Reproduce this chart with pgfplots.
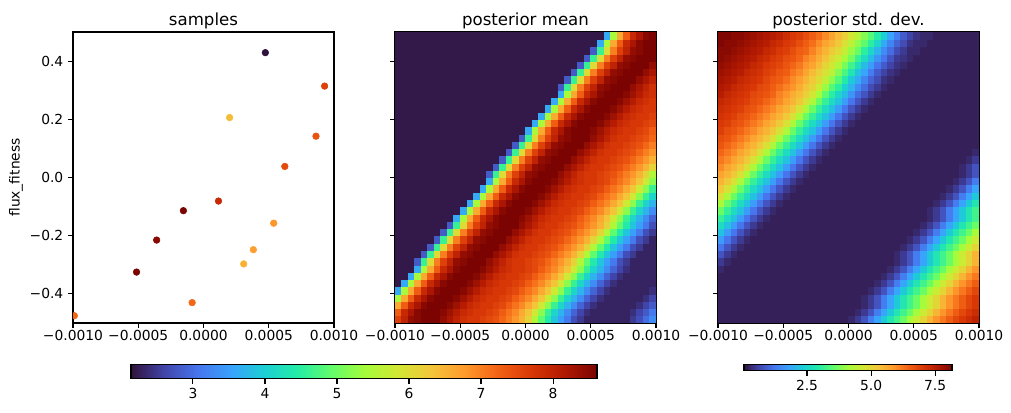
\documentclass[border=0pt]{standalone}
\usepackage{pgfplots}
\pgfplotsset{compat=1.18}
\usepackage{fontspec}
\setmainfont{DejaVu Sans}

% turbo colormap, 15 samples
\pgfplotsset{
  colormap={turbo}{rgb255=(48,18,59) rgb255=(65,69,171) rgb255=(70,117,237)
    rgb255=(57,162,252) rgb255=(27,207,212) rgb255=(36,236,166) rgb255=(97,252,108)
    rgb255=(164,252,59) rgb255=(209,232,52) rgb255=(243,198,58) rgb255=(254,155,45)
    rgb255=(243,99,21) rgb255=(217,56,6) rgb255=(177,25,1) rgb255=(122,4,2)},
  panel/.style={
    scale only axis, width=2.61in, height=2.91in, anchor=south west,
    axis line style={line width=0.8pt},
    tick style={line width=0.8pt, black},
    tick align=outside, tick pos=left, major tick length=3.5pt,
    tick label style={font=\fontsize{10}{12}\selectfont},
    xticklabel style={yshift=2pt},
    title style={font=\fontsize{12}{14}\selectfont, yshift=-7.5pt},
    colormap name=turbo,
  },
  grid panel/.style={
    panel, xmin=0, xmax=40, ymin=0, ymax=40,
    xtick={0,10,20,30,40},
    xticklabels={−0.0010,−0.0005,0.0000,0.0005,0.0010},
    ytick={4,12,20,28,36}, yticklabels={},
  },
  cbar/.style={
    scale only axis, anchor=south west, hide axis,
    xmin=0, xmax=1, ymin=0, ymax=1, colormap name=turbo,
    colorbar horizontal,
  },
  % the colour bar is drawn about 0.11in below the hidden parent box
  cbar style/.style={
    at={(parent axis.south west)}, anchor=south west, scale only axis,
    axis line style={line width=0.8pt},
    tick style={line width=0.8pt, black},
    tick align=outside, major tick length=3.5pt, xtick pos=left,
    tick label style={font=\fontsize{10}{12}\selectfont},
  },
}

\begin{document}
\begin{tikzpicture}
\path (0,0) rectangle (10.11in,4.13in);

% ---- samples ----
\begin{axis}[panel, at={(0.73in,0.90in)},
  xmin=-0.001, xmax=0.001, ymin=-0.5, ymax=0.5, scaled ticks=false,
  xtick={-0.001,-0.0005,0,0.0005,0.001},
  xticklabels={−0.0010,−0.0005,0.0000,0.0005,0.0010},
  ytick={-0.4,-0.2,0,0.2,0.4},
  yticklabels={−0.4,−0.2,0.0,0.2,0.4},
  title={samples},
  ylabel={flux\_fitness},
  ylabel style={font=\fontsize{10}{12}\selectfont, at={(axis description cs:-0.218,0.5)}, anchor=center},
  clip marker paths=true,
  point meta min=2.14, point meta max=8.61]
\addplot[scatter, only marks, mark=*, mark size=2.4pt, point meta=explicit,
  scatter/use mapped color={draw=mapped color, fill=mapped color}]
  table[x=x, y=y, meta=c, row sep=\\] {
x y c\\
0.000474 0.429 2.15\\
0.000928 0.314 7.6\\
0.000200 0.206 6.4\\
0.000862 0.142 7.4\\
0.000623 0.038 7.5\\
0.000115 -0.081 7.9\\
-0.000154 -0.114 8.6\\
0.000538 -0.157 6.8\\
-0.000359 -0.215 8.5\\
0.000382 -0.248 6.7\\
0.000308 -0.297 6.5\\
-0.000513 -0.325 8.6\\
-0.000087 -0.430 7.2\\
-0.000990 -0.475 7.2\\
};
\end{axis}

% ---- posterior mean (40 x 40 cells, bottom row first) ----
\begin{axis}[grid panel, at={(3.95in,0.90in)}, title={posterior mean},
  point meta min=2.14, point meta max=8.61]
\addplot[matrix plot*, mesh/cols=40, point meta=explicit]
  table[header=false, row sep=\\, meta index=0,
    x expr={\coordindex-40*floor((\coordindex+0.5)/40)+0.5},
    y expr={floor((\coordindex+0.5)/40)+0.5}] {
7.6\\ 8.0\\ 8.4\\ 8.5\\ 8.6\\ 8.6\\
8.6\\ 8.4\\ 8.2\\ 8.0\\ 7.8\\ 7.7\\ 7.7\\ 7.6\\ 7.5\\ 7.4\\
7.2\\ 7.0\\ 6.8\\ 6.5\\ 6.1\\ 5.5\\ 4.9\\ 4.4\\ 3.9\\ 3.5\\
3.1\\ 2.7\\ 2.5\\ 2.3\\ 2.3\\ 2.3\\ 2.3\\ 2.3\\ 2.3\\ 2.3\\
2.5\\ 2.7\\ 3.0\\ 3.3\\
7.3\\ 7.9\\ 8.2\\ 8.5\\ 8.6\\ 8.6\\ 8.6\\
8.5\\ 8.3\\ 8.1\\ 7.9\\ 7.8\\ 7.7\\ 7.7\\ 7.6\\ 7.5\\ 7.3\\
7.1\\ 6.9\\ 6.6\\ 6.3\\ 5.8\\ 5.2\\ 4.6\\ 4.1\\ 3.7\\ 3.3\\
2.9\\ 2.6\\ 2.4\\ 2.3\\ 2.3\\ 2.3\\ 2.3\\ 2.3\\ 2.3\\ 2.4\\
2.6\\ 2.8\\ 3.1\\
6.6\\ 7.3\\ 7.9\\ 8.2\\ 8.5\\ 8.6\\ 8.6\\ 8.6\\
8.5\\ 8.3\\ 8.1\\ 7.9\\ 7.8\\ 7.7\\ 7.7\\ 7.6\\ 7.5\\ 7.3\\
7.1\\ 6.9\\ 6.6\\ 6.3\\ 5.8\\ 5.2\\ 4.6\\ 4.1\\ 3.7\\ 3.3\\
2.9\\ 2.6\\ 2.4\\ 2.3\\ 2.3\\ 2.3\\ 2.3\\ 2.3\\ 2.3\\ 2.4\\
2.6\\ 2.8\\
5.4\\ 6.6\\ 7.3\\ 7.9\\ 8.2\\ 8.5\\ 8.6\\ 8.6\\ 8.6\\
8.5\\ 8.3\\ 8.1\\ 7.9\\ 7.8\\ 7.7\\ 7.7\\ 7.6\\ 7.5\\ 7.3\\
7.1\\ 6.9\\ 6.6\\ 6.3\\ 5.8\\ 5.2\\ 4.6\\ 4.1\\ 3.7\\ 3.3\\
2.9\\ 2.6\\ 2.4\\ 2.3\\ 2.3\\ 2.3\\ 2.3\\ 2.3\\ 2.3\\ 2.4\\
2.6\\
3.6\\ 5.4\\ 6.6\\ 7.3\\ 7.9\\ 8.2\\ 8.5\\ 8.6\\ 8.6\\ 8.6\\
8.5\\ 8.3\\ 8.1\\ 7.9\\ 7.8\\ 7.7\\ 7.7\\ 7.6\\ 7.5\\ 7.3\\
7.1\\ 6.9\\ 6.6\\ 6.3\\ 5.8\\ 5.2\\ 4.6\\ 4.1\\ 3.7\\ 3.3\\
2.9\\ 2.6\\ 2.4\\ 2.3\\ 2.3\\ 2.3\\ 2.3\\ 2.3\\ 2.3\\ 2.4\\
2.2\\
3.6\\ 5.4\\ 6.6\\ 7.3\\ 7.9\\ 8.2\\ 8.5\\ 8.6\\ 8.6\\ 8.6\\
8.5\\ 8.3\\ 8.1\\ 7.9\\ 7.8\\ 7.7\\ 7.7\\ 7.6\\ 7.5\\ 7.3\\
7.1\\ 6.9\\ 6.6\\ 6.3\\ 5.8\\ 5.2\\ 4.6\\ 4.1\\ 3.7\\ 3.3\\
2.9\\ 2.6\\ 2.4\\ 2.3\\ 2.3\\ 2.3\\ 2.3\\ 2.3\\ 2.3\\
2.2\\ 2.2\\
3.6\\ 5.4\\ 6.6\\ 7.3\\ 7.9\\ 8.2\\ 8.5\\ 8.6\\ 8.6\\ 8.6\\
8.5\\ 8.3\\ 8.1\\ 7.9\\ 7.8\\ 7.7\\ 7.7\\ 7.6\\ 7.5\\ 7.3\\
7.1\\ 6.9\\ 6.6\\ 6.3\\ 5.8\\ 5.2\\ 4.6\\ 4.1\\ 3.7\\ 3.3\\
2.9\\ 2.6\\ 2.4\\ 2.3\\ 2.3\\ 2.3\\ 2.3\\ 2.3\\
2.2\\ 2.2\\ 2.2\\
3.6\\ 5.4\\ 6.6\\ 7.3\\ 7.9\\ 8.2\\ 8.5\\ 8.6\\ 8.6\\ 8.6\\
8.5\\ 8.3\\ 8.1\\ 7.9\\ 7.8\\ 7.7\\ 7.7\\ 7.6\\ 7.5\\ 7.3\\
7.1\\ 6.9\\ 6.6\\ 6.3\\ 5.8\\ 5.2\\ 4.6\\ 4.1\\ 3.7\\ 3.3\\
2.9\\ 2.6\\ 2.4\\ 2.3\\ 2.3\\ 2.3\\ 2.3\\
2.2\\ 2.2\\ 2.2\\
2.8\\ 4.6\\ 6.0\\ 7.0\\ 7.6\\ 8.0\\ 8.4\\ 8.5\\ 8.6\\ 8.6\\
8.6\\ 8.4\\ 8.2\\ 8.0\\ 7.8\\ 7.7\\ 7.7\\ 7.6\\ 7.5\\ 7.4\\
7.2\\ 7.0\\ 6.8\\ 6.5\\ 6.1\\ 5.5\\ 4.9\\ 4.4\\ 3.9\\ 3.5\\
3.1\\ 2.7\\ 2.5\\ 2.3\\ 2.3\\ 2.3\\ 2.3\\
2.2\\ 2.2\\ 2.2\\ 2.2\\
2.8\\ 4.6\\ 6.0\\ 7.0\\ 7.6\\ 8.0\\ 8.4\\ 8.5\\ 8.6\\ 8.6\\
8.6\\ 8.4\\ 8.2\\ 8.0\\ 7.8\\ 7.7\\ 7.7\\ 7.6\\ 7.5\\ 7.4\\
7.2\\ 7.0\\ 6.8\\ 6.5\\ 6.1\\ 5.5\\ 4.9\\ 4.4\\ 3.9\\ 3.5\\
3.1\\ 2.7\\ 2.5\\ 2.3\\ 2.3\\ 2.3\\
2.2\\ 2.2\\ 2.2\\ 2.2\\ 2.2\\
2.8\\ 4.6\\ 6.0\\ 7.0\\ 7.6\\ 8.0\\ 8.4\\ 8.5\\ 8.6\\ 8.6\\
8.6\\ 8.4\\ 8.2\\ 8.0\\ 7.8\\ 7.7\\ 7.7\\ 7.6\\ 7.5\\ 7.4\\
7.2\\ 7.0\\ 6.8\\ 6.5\\ 6.1\\ 5.5\\ 4.9\\ 4.4\\ 3.9\\ 3.5\\
3.1\\ 2.7\\ 2.5\\ 2.3\\ 2.3\\
2.2\\ 2.2\\ 2.2\\ 2.2\\ 2.2\\ 2.2\\
2.8\\ 4.6\\ 6.0\\ 7.0\\ 7.6\\ 8.0\\ 8.4\\ 8.5\\ 8.6\\ 8.6\\
8.6\\ 8.4\\ 8.2\\ 8.0\\ 7.8\\ 7.7\\ 7.7\\ 7.6\\ 7.5\\ 7.4\\
7.2\\ 7.0\\ 6.8\\ 6.5\\ 6.1\\ 5.5\\ 4.9\\ 4.4\\ 3.9\\ 3.5\\
3.1\\ 2.7\\ 2.5\\ 2.3\\
2.2\\ 2.2\\ 2.2\\ 2.2\\ 2.2\\ 2.2\\ 2.2\\
2.8\\ 4.6\\ 6.0\\ 7.0\\ 7.6\\ 8.0\\ 8.4\\ 8.5\\ 8.6\\ 8.6\\
8.6\\ 8.4\\ 8.2\\ 8.0\\ 7.8\\ 7.7\\ 7.7\\ 7.6\\ 7.5\\ 7.4\\
7.2\\ 7.0\\ 6.8\\ 6.5\\ 6.1\\ 5.5\\ 4.9\\ 4.4\\ 3.9\\ 3.5\\
3.1\\ 2.7\\ 2.5\\
2.2\\ 2.2\\ 2.2\\ 2.2\\ 2.2\\ 2.2\\ 2.2\\ 2.2\\
2.8\\ 4.6\\ 6.0\\ 7.0\\ 7.6\\ 8.0\\ 8.4\\ 8.5\\ 8.6\\ 8.6\\
8.6\\ 8.4\\ 8.2\\ 8.0\\ 7.8\\ 7.7\\ 7.7\\ 7.6\\ 7.5\\ 7.4\\
7.2\\ 7.0\\ 6.8\\ 6.5\\ 6.1\\ 5.5\\ 4.9\\ 4.4\\ 3.9\\ 3.5\\
3.1\\ 2.7\\
2.2\\ 2.2\\ 2.2\\ 2.2\\ 2.2\\ 2.2\\ 2.2\\ 2.2\\ 2.2\\
3.6\\ 5.4\\ 6.6\\ 7.3\\ 7.9\\ 8.2\\ 8.5\\ 8.6\\ 8.6\\ 8.6\\
8.5\\ 8.3\\ 8.1\\ 7.9\\ 7.8\\ 7.7\\ 7.7\\ 7.6\\ 7.5\\ 7.3\\
7.1\\ 6.9\\ 6.6\\ 6.3\\ 5.8\\ 5.2\\ 4.6\\ 4.1\\ 3.7\\ 3.3\\
2.9\\
2.2\\ 2.2\\ 2.2\\ 2.2\\ 2.2\\ 2.2\\ 2.2\\ 2.2\\ 2.2\\ 2.2\\
3.6\\ 5.4\\ 6.6\\ 7.3\\ 7.9\\ 8.2\\ 8.5\\ 8.6\\ 8.6\\ 8.6\\
8.5\\ 8.3\\ 8.1\\ 7.9\\ 7.8\\ 7.7\\ 7.7\\ 7.6\\ 7.5\\ 7.3\\
7.1\\ 6.9\\ 6.6\\ 6.3\\ 5.8\\ 5.2\\ 4.6\\ 4.1\\ 3.7\\ 3.3\\
2.2\\ 2.2\\ 2.2\\ 2.2\\ 2.2\\ 2.2\\ 2.2\\ 2.2\\ 2.2\\ 2.2\\
2.2\\
3.6\\ 5.4\\ 6.6\\ 7.3\\ 7.9\\ 8.2\\ 8.5\\ 8.6\\ 8.6\\ 8.6\\
8.5\\ 8.3\\ 8.1\\ 7.9\\ 7.8\\ 7.7\\ 7.7\\ 7.6\\ 7.5\\ 7.3\\
7.1\\ 6.9\\ 6.6\\ 6.3\\ 5.8\\ 5.2\\ 4.6\\ 4.1\\ 3.7\\
2.2\\ 2.2\\ 2.2\\ 2.2\\ 2.2\\ 2.2\\ 2.2\\ 2.2\\ 2.2\\ 2.2\\
2.2\\ 2.2\\
3.6\\ 5.4\\ 6.6\\ 7.3\\ 7.9\\ 8.2\\ 8.5\\ 8.6\\ 8.6\\ 8.6\\
8.5\\ 8.3\\ 8.1\\ 7.9\\ 7.8\\ 7.7\\ 7.7\\ 7.6\\ 7.5\\ 7.3\\
7.1\\ 6.9\\ 6.6\\ 6.3\\ 5.8\\ 5.2\\ 4.6\\ 4.1\\
2.2\\ 2.2\\ 2.2\\ 2.2\\ 2.2\\ 2.2\\ 2.2\\ 2.2\\ 2.2\\ 2.2\\
2.2\\ 2.2\\ 2.2\\
3.6\\ 5.4\\ 6.6\\ 7.3\\ 7.9\\ 8.2\\ 8.5\\ 8.6\\ 8.6\\ 8.6\\
8.5\\ 8.3\\ 8.1\\ 7.9\\ 7.8\\ 7.7\\ 7.7\\ 7.6\\ 7.5\\ 7.3\\
7.1\\ 6.9\\ 6.6\\ 6.3\\ 5.8\\ 5.2\\ 4.6\\
2.2\\ 2.2\\ 2.2\\ 2.2\\ 2.2\\ 2.2\\ 2.2\\ 2.2\\ 2.2\\ 2.2\\
2.2\\ 2.2\\ 2.2\\ 2.2\\
3.6\\ 5.4\\ 6.6\\ 7.3\\ 7.9\\ 8.2\\ 8.5\\ 8.6\\ 8.6\\ 8.6\\
8.5\\ 8.3\\ 8.1\\ 7.9\\ 7.8\\ 7.7\\ 7.7\\ 7.6\\ 7.5\\ 7.3\\
7.1\\ 6.9\\ 6.6\\ 6.3\\ 5.8\\ 5.2\\
2.2\\ 2.2\\ 2.2\\ 2.2\\ 2.2\\ 2.2\\ 2.2\\ 2.2\\ 2.2\\ 2.2\\
2.2\\ 2.2\\ 2.2\\ 2.2\\
2.8\\ 4.6\\ 6.0\\ 7.0\\ 7.6\\ 8.0\\ 8.4\\ 8.5\\ 8.6\\ 8.6\\
8.6\\ 8.4\\ 8.2\\ 8.0\\ 7.8\\ 7.7\\ 7.7\\ 7.6\\ 7.5\\ 7.4\\
7.2\\ 7.0\\ 6.8\\ 6.5\\ 6.1\\ 5.5\\
2.2\\ 2.2\\ 2.2\\ 2.2\\ 2.2\\ 2.2\\ 2.2\\ 2.2\\ 2.2\\ 2.2\\
2.2\\ 2.2\\ 2.2\\ 2.2\\ 2.2\\
2.8\\ 4.6\\ 6.0\\ 7.0\\ 7.6\\ 8.0\\ 8.4\\ 8.5\\ 8.6\\ 8.6\\
8.6\\ 8.4\\ 8.2\\ 8.0\\ 7.8\\ 7.7\\ 7.7\\ 7.6\\ 7.5\\ 7.4\\
7.2\\ 7.0\\ 6.8\\ 6.5\\ 6.1\\
2.2\\ 2.2\\ 2.2\\ 2.2\\ 2.2\\ 2.2\\ 2.2\\ 2.2\\ 2.2\\ 2.2\\
2.2\\ 2.2\\ 2.2\\ 2.2\\ 2.2\\ 2.2\\
2.8\\ 4.6\\ 6.0\\ 7.0\\ 7.6\\ 8.0\\ 8.4\\ 8.5\\ 8.6\\ 8.6\\
8.6\\ 8.4\\ 8.2\\ 8.0\\ 7.8\\ 7.7\\ 7.7\\ 7.6\\ 7.5\\ 7.4\\
7.2\\ 7.0\\ 6.8\\ 6.5\\
2.2\\ 2.2\\ 2.2\\ 2.2\\ 2.2\\ 2.2\\ 2.2\\ 2.2\\ 2.2\\ 2.2\\
2.2\\ 2.2\\ 2.2\\ 2.2\\ 2.2\\ 2.2\\ 2.2\\
2.8\\ 4.6\\ 6.0\\ 7.0\\ 7.6\\ 8.0\\ 8.4\\ 8.5\\ 8.6\\ 8.6\\
8.6\\ 8.4\\ 8.2\\ 8.0\\ 7.8\\ 7.7\\ 7.7\\ 7.6\\ 7.5\\ 7.4\\
7.2\\ 7.0\\ 6.8\\
2.2\\ 2.2\\ 2.2\\ 2.2\\ 2.2\\ 2.2\\ 2.2\\ 2.2\\ 2.2\\ 2.2\\
2.2\\ 2.2\\ 2.2\\ 2.2\\ 2.2\\ 2.2\\ 2.2\\ 2.2\\
2.8\\ 4.6\\ 6.0\\ 7.0\\ 7.6\\ 8.0\\ 8.4\\ 8.5\\ 8.6\\ 8.6\\
8.6\\ 8.4\\ 8.2\\ 8.0\\ 7.8\\ 7.7\\ 7.7\\ 7.6\\ 7.5\\ 7.4\\
7.2\\ 7.0\\
2.2\\ 2.2\\ 2.2\\ 2.2\\ 2.2\\ 2.2\\ 2.2\\ 2.2\\ 2.2\\ 2.2\\
2.2\\ 2.2\\ 2.2\\ 2.2\\ 2.2\\ 2.2\\ 2.2\\ 2.2\\ 2.2\\
2.8\\ 4.6\\ 6.0\\ 7.0\\ 7.6\\ 8.0\\ 8.4\\ 8.5\\ 8.6\\ 8.6\\
8.6\\ 8.4\\ 8.2\\ 8.0\\ 7.8\\ 7.7\\ 7.7\\ 7.6\\ 7.5\\ 7.4\\
7.2\\
2.2\\ 2.2\\ 2.2\\ 2.2\\ 2.2\\ 2.2\\ 2.2\\ 2.2\\ 2.2\\ 2.2\\
2.2\\ 2.2\\ 2.2\\ 2.2\\ 2.2\\ 2.2\\ 2.2\\ 2.2\\ 2.2\\ 2.2\\
3.6\\ 5.4\\ 6.6\\ 7.3\\ 7.9\\ 8.2\\ 8.5\\ 8.6\\ 8.6\\ 8.6\\
8.5\\ 8.3\\ 8.1\\ 7.9\\ 7.8\\ 7.7\\ 7.7\\ 7.6\\ 7.5\\ 7.3\\
2.2\\ 2.2\\ 2.2\\ 2.2\\ 2.2\\ 2.2\\ 2.2\\ 2.2\\ 2.2\\ 2.2\\
2.2\\ 2.2\\ 2.2\\ 2.2\\ 2.2\\ 2.2\\ 2.2\\ 2.2\\ 2.2\\ 2.2\\
2.2\\
3.6\\ 5.4\\ 6.6\\ 7.3\\ 7.9\\ 8.2\\ 8.5\\ 8.6\\ 8.6\\ 8.6\\
8.5\\ 8.3\\ 8.1\\ 7.9\\ 7.8\\ 7.7\\ 7.7\\ 7.6\\ 7.5\\
2.2\\ 2.2\\ 2.2\\ 2.2\\ 2.2\\ 2.2\\ 2.2\\ 2.2\\ 2.2\\ 2.2\\
2.2\\ 2.2\\ 2.2\\ 2.2\\ 2.2\\ 2.2\\ 2.2\\ 2.2\\ 2.2\\ 2.2\\
2.2\\ 2.2\\
3.6\\ 5.4\\ 6.6\\ 7.3\\ 7.9\\ 8.2\\ 8.5\\ 8.6\\ 8.6\\ 8.6\\
8.5\\ 8.3\\ 8.1\\ 7.9\\ 7.8\\ 7.7\\ 7.7\\ 7.6\\
2.2\\ 2.2\\ 2.2\\ 2.2\\ 2.2\\ 2.2\\ 2.2\\ 2.2\\ 2.2\\ 2.2\\
2.2\\ 2.2\\ 2.2\\ 2.2\\ 2.2\\ 2.2\\ 2.2\\ 2.2\\ 2.2\\ 2.2\\
2.2\\ 2.2\\ 2.2\\
3.6\\ 5.4\\ 6.6\\ 7.3\\ 7.9\\ 8.2\\ 8.5\\ 8.6\\ 8.6\\ 8.6\\
8.5\\ 8.3\\ 8.1\\ 7.9\\ 7.8\\ 7.7\\ 7.7\\
2.2\\ 2.2\\ 2.2\\ 2.2\\ 2.2\\ 2.2\\ 2.2\\ 2.2\\ 2.2\\ 2.2\\
2.2\\ 2.2\\ 2.2\\ 2.2\\ 2.2\\ 2.2\\ 2.2\\ 2.2\\ 2.2\\ 2.2\\
2.2\\ 2.2\\ 2.2\\ 2.2\\
3.6\\ 5.4\\ 6.6\\ 7.3\\ 7.9\\ 8.2\\ 8.5\\ 8.6\\ 8.6\\ 8.6\\
8.5\\ 8.3\\ 8.1\\ 7.9\\ 7.8\\ 7.7\\
2.2\\ 2.2\\ 2.2\\ 2.2\\ 2.2\\ 2.2\\ 2.2\\ 2.2\\ 2.2\\ 2.2\\
2.2\\ 2.2\\ 2.2\\ 2.2\\ 2.2\\ 2.2\\ 2.2\\ 2.2\\ 2.2\\ 2.2\\
2.2\\ 2.2\\ 2.2\\ 2.2\\ 2.2\\
3.6\\ 5.4\\ 6.6\\ 7.3\\ 7.9\\ 8.2\\ 8.5\\ 8.6\\ 8.6\\ 8.6\\
8.5\\ 8.3\\ 8.1\\ 7.9\\ 7.8\\
2.2\\ 2.2\\ 2.2\\ 2.2\\ 2.2\\ 2.2\\ 2.2\\ 2.2\\ 2.2\\ 2.2\\
2.2\\ 2.2\\ 2.2\\ 2.2\\ 2.2\\ 2.2\\ 2.2\\ 2.2\\ 2.2\\ 2.2\\
2.2\\ 2.2\\ 2.2\\ 2.2\\ 2.2\\
2.8\\ 4.6\\ 6.0\\ 7.0\\ 7.6\\ 8.0\\ 8.4\\ 8.5\\ 8.6\\ 8.6\\
8.6\\ 8.4\\ 8.2\\ 8.0\\ 7.8\\
2.2\\ 2.2\\ 2.2\\ 2.2\\ 2.2\\ 2.2\\ 2.2\\ 2.2\\ 2.2\\ 2.2\\
2.2\\ 2.2\\ 2.2\\ 2.2\\ 2.2\\ 2.2\\ 2.2\\ 2.2\\ 2.2\\ 2.2\\
2.2\\ 2.2\\ 2.2\\ 2.2\\ 2.2\\ 2.2\\
2.8\\ 4.6\\ 6.0\\ 7.0\\ 7.6\\ 8.0\\ 8.4\\ 8.5\\ 8.6\\ 8.6\\
8.6\\ 8.4\\ 8.2\\ 8.0\\
2.2\\ 2.2\\ 2.2\\ 2.2\\ 2.2\\ 2.2\\ 2.2\\ 2.2\\ 2.2\\ 2.2\\
2.2\\ 2.2\\ 2.2\\ 2.2\\ 2.2\\ 2.2\\ 2.2\\ 2.2\\ 2.2\\ 2.2\\
2.2\\ 2.2\\ 2.2\\ 2.2\\ 2.2\\ 2.2\\ 2.2\\
2.8\\ 4.6\\ 6.0\\ 7.0\\ 7.6\\ 8.0\\ 8.4\\ 8.5\\ 8.6\\ 8.6\\
8.6\\ 8.4\\ 8.2\\
2.2\\ 2.2\\ 2.2\\ 2.2\\ 2.2\\ 2.2\\ 2.2\\ 2.2\\ 2.2\\ 2.2\\
2.2\\ 2.2\\ 2.2\\ 2.2\\ 2.2\\ 2.2\\ 2.2\\ 2.2\\ 2.2\\ 2.2\\
2.2\\ 2.2\\ 2.2\\ 2.2\\ 2.2\\ 2.2\\ 2.2\\ 2.2\\
2.8\\ 4.6\\ 6.0\\ 7.0\\ 7.6\\ 8.0\\ 8.4\\ 8.5\\ 8.6\\ 8.6\\
8.6\\ 8.4\\
2.2\\ 2.2\\ 2.2\\ 2.2\\ 2.2\\ 2.2\\ 2.2\\ 2.2\\ 2.2\\ 2.2\\
2.2\\ 2.2\\ 2.2\\ 2.2\\ 2.2\\ 2.2\\ 2.2\\ 2.2\\ 2.2\\ 2.2\\
2.2\\ 2.2\\ 2.2\\ 2.2\\ 2.2\\ 2.2\\ 2.2\\ 2.2\\ 2.2\\
2.8\\ 4.6\\ 6.0\\ 7.0\\ 7.6\\ 8.0\\ 8.4\\ 8.5\\ 8.6\\ 8.6\\
8.6\\
2.2\\ 2.2\\ 2.2\\ 2.2\\ 2.2\\ 2.2\\ 2.2\\ 2.2\\ 2.2\\ 2.2\\
2.2\\ 2.2\\ 2.2\\ 2.2\\ 2.2\\ 2.2\\ 2.2\\ 2.2\\ 2.2\\ 2.2\\
2.2\\ 2.2\\ 2.2\\ 2.2\\ 2.2\\ 2.2\\ 2.2\\ 2.2\\ 2.2\\ 2.2\\
2.8\\ 4.6\\ 6.0\\ 7.0\\ 7.6\\ 8.0\\ 8.4\\ 8.5\\ 8.6\\ 8.6\\
2.2\\ 2.2\\ 2.2\\ 2.2\\ 2.2\\ 2.2\\ 2.2\\ 2.2\\ 2.2\\ 2.2\\
2.2\\ 2.2\\ 2.2\\ 2.2\\ 2.2\\ 2.2\\ 2.2\\ 2.2\\ 2.2\\ 2.2\\
2.2\\ 2.2\\ 2.2\\ 2.2\\ 2.2\\ 2.2\\ 2.2\\ 2.2\\ 2.2\\ 2.2\\
2.2\\
3.6\\ 5.4\\ 6.6\\ 7.3\\ 7.9\\ 8.2\\ 8.5\\ 8.6\\ 8.6\\
2.2\\ 2.2\\ 2.2\\ 2.2\\ 2.2\\ 2.2\\ 2.2\\ 2.2\\ 2.2\\ 2.2\\
2.2\\ 2.2\\ 2.2\\ 2.2\\ 2.2\\ 2.2\\ 2.2\\ 2.2\\ 2.2\\ 2.2\\
2.2\\ 2.2\\ 2.2\\ 2.2\\ 2.2\\ 2.2\\ 2.2\\ 2.2\\ 2.2\\ 2.2\\
2.2\\ 2.2\\
3.6\\ 5.4\\ 6.6\\ 7.3\\ 7.9\\ 8.2\\ 8.5\\ 8.6\\
};
\end{axis}

% ---- posterior std. dev. (40 x 40 cells, bottom row first) ----
\begin{axis}[grid panel, at={(7.18in,0.90in)}, title={posterior std. dev.},
  point meta min=0.04, point meta max=8.16]
\addplot[matrix plot*, mesh/cols=40, point meta=explicit]
  table[header=false, row sep=\\, meta index=0,
    x expr={\coordindex-40*floor((\coordindex+0.5)/40)+0.5},
    y expr={floor((\coordindex+0.5)/40)+0.5}] {
0.2\\ 0.2\\ 0.2\\ 0.2\\ 0.2\\ 0.2\\ 0.2\\ 0.2\\ 0.2\\ 0.2\\
0.2\\ 0.2\\ 0.2\\ 0.2\\ 0.2\\ 0.2\\ 0.2\\ 0.2\\ 0.2\\ 0.2\\
0.3\\
0.5\\ 0.8\\ 1.3\\ 1.8\\ 2.3\\ 2.8\\ 3.2\\ 3.6\\ 4.1\\ 4.6\\
5.0\\ 5.5\\ 5.9\\ 6.2\\ 6.5\\ 6.8\\ 7.0\\ 7.2\\ 7.4\\
0.2\\ 0.2\\ 0.2\\ 0.2\\ 0.2\\ 0.2\\ 0.2\\ 0.2\\ 0.2\\ 0.2\\
0.2\\ 0.2\\ 0.2\\ 0.2\\ 0.2\\ 0.2\\ 0.2\\ 0.2\\ 0.2\\ 0.2\\
0.2\\ 0.3\\
0.5\\ 0.8\\ 1.3\\ 1.8\\ 2.3\\ 2.8\\ 3.2\\ 3.6\\ 4.1\\ 4.6\\
5.0\\ 5.5\\ 5.9\\ 6.2\\ 6.5\\ 6.8\\ 7.0\\ 7.2\\
0.2\\ 0.2\\ 0.2\\ 0.2\\ 0.2\\ 0.2\\ 0.2\\ 0.2\\ 0.2\\ 0.2\\
0.2\\ 0.2\\ 0.2\\ 0.2\\ 0.2\\ 0.2\\ 0.2\\ 0.2\\ 0.2\\ 0.2\\
0.2\\ 0.2\\ 0.3\\
0.5\\ 0.8\\ 1.3\\ 1.8\\ 2.3\\ 2.8\\ 3.2\\ 3.6\\ 4.1\\ 4.6\\
5.0\\ 5.5\\ 5.9\\ 6.2\\ 6.5\\ 6.8\\ 7.0\\
0.2\\ 0.2\\ 0.2\\ 0.2\\ 0.2\\ 0.2\\ 0.2\\ 0.2\\ 0.2\\ 0.2\\
0.2\\ 0.2\\ 0.2\\ 0.2\\ 0.2\\ 0.2\\ 0.2\\ 0.2\\ 0.2\\ 0.2\\
0.2\\ 0.2\\ 0.3\\
0.5\\ 0.8\\ 1.3\\ 1.8\\ 2.3\\ 2.8\\ 3.2\\ 3.6\\ 4.1\\ 4.6\\
5.0\\ 5.5\\ 5.9\\ 6.2\\ 6.5\\ 6.8\\ 7.0\\
0.2\\ 0.2\\ 0.2\\ 0.2\\ 0.2\\ 0.2\\ 0.2\\ 0.2\\ 0.2\\ 0.2\\
0.2\\ 0.2\\ 0.2\\ 0.2\\ 0.2\\ 0.2\\ 0.2\\ 0.2\\ 0.2\\ 0.2\\
0.2\\ 0.2\\ 0.2\\ 0.3\\
0.5\\ 0.8\\ 1.3\\ 1.8\\ 2.3\\ 2.8\\ 3.2\\ 3.6\\ 4.1\\ 4.6\\
5.0\\ 5.5\\ 5.9\\ 6.2\\ 6.5\\ 6.8\\
0.2\\ 0.2\\ 0.2\\ 0.2\\ 0.2\\ 0.2\\ 0.2\\ 0.2\\ 0.2\\ 0.2\\
0.2\\ 0.2\\ 0.2\\ 0.2\\ 0.2\\ 0.2\\ 0.2\\ 0.2\\ 0.2\\ 0.2\\
0.2\\ 0.2\\ 0.2\\ 0.2\\ 0.3\\
0.5\\ 0.8\\ 1.3\\ 1.8\\ 2.3\\ 2.8\\ 3.2\\ 3.6\\ 4.1\\ 4.6\\
5.0\\ 5.5\\ 5.9\\ 6.2\\ 6.5\\
0.2\\ 0.2\\ 0.2\\ 0.2\\ 0.2\\ 0.2\\ 0.2\\ 0.2\\ 0.2\\ 0.2\\
0.2\\ 0.2\\ 0.2\\ 0.2\\ 0.2\\ 0.2\\ 0.2\\ 0.2\\ 0.2\\ 0.2\\
0.2\\ 0.2\\ 0.2\\ 0.2\\ 0.2\\ 0.3\\
0.5\\ 0.8\\ 1.3\\ 1.8\\ 2.3\\ 2.8\\ 3.2\\ 3.6\\ 4.1\\ 4.6\\
5.0\\ 5.5\\ 5.9\\ 6.2\\
0.3\\
0.2\\ 0.2\\ 0.2\\ 0.2\\ 0.2\\ 0.2\\ 0.2\\ 0.2\\ 0.2\\ 0.2\\
0.2\\ 0.2\\ 0.2\\ 0.2\\ 0.2\\ 0.2\\ 0.2\\ 0.2\\ 0.2\\ 0.2\\
0.2\\ 0.2\\ 0.2\\ 0.2\\ 0.2\\ 0.3\\
0.5\\ 0.8\\ 1.3\\ 1.8\\ 2.3\\ 2.8\\ 3.2\\ 3.6\\ 4.1\\ 4.6\\
5.0\\ 5.5\\ 5.9\\
0.5\\ 0.3\\
0.2\\ 0.2\\ 0.2\\ 0.2\\ 0.2\\ 0.2\\ 0.2\\ 0.2\\ 0.2\\ 0.2\\
0.2\\ 0.2\\ 0.2\\ 0.2\\ 0.2\\ 0.2\\ 0.2\\ 0.2\\ 0.2\\ 0.2\\
0.2\\ 0.2\\ 0.2\\ 0.2\\ 0.2\\ 0.3\\
0.5\\ 0.8\\ 1.3\\ 1.8\\ 2.3\\ 2.8\\ 3.2\\ 3.6\\ 4.1\\ 4.6\\
5.0\\ 5.5\\
0.8\\ 0.5\\ 0.3\\
0.2\\ 0.2\\ 0.2\\ 0.2\\ 0.2\\ 0.2\\ 0.2\\ 0.2\\ 0.2\\ 0.2\\
0.2\\ 0.2\\ 0.2\\ 0.2\\ 0.2\\ 0.2\\ 0.2\\ 0.2\\ 0.2\\ 0.2\\
0.2\\ 0.2\\ 0.2\\ 0.2\\ 0.3\\
0.5\\ 0.8\\ 1.3\\ 1.8\\ 2.3\\ 2.8\\ 3.2\\ 3.6\\ 4.1\\ 4.6\\
5.0\\ 5.5\\
1.2\\ 0.8\\ 0.5\\ 0.3\\
0.2\\ 0.2\\ 0.2\\ 0.2\\ 0.2\\ 0.2\\ 0.2\\ 0.2\\ 0.2\\ 0.2\\
0.2\\ 0.2\\ 0.2\\ 0.2\\ 0.2\\ 0.2\\ 0.2\\ 0.2\\ 0.2\\ 0.2\\
0.2\\ 0.2\\ 0.2\\ 0.2\\ 0.3\\
0.5\\ 0.8\\ 1.3\\ 1.8\\ 2.3\\ 2.8\\ 3.2\\ 3.6\\ 4.1\\ 4.6\\
5.0\\
1.7\\ 1.2\\ 0.8\\ 0.5\\ 0.3\\
0.2\\ 0.2\\ 0.2\\ 0.2\\ 0.2\\ 0.2\\ 0.2\\ 0.2\\ 0.2\\ 0.2\\
0.2\\ 0.2\\ 0.2\\ 0.2\\ 0.2\\ 0.2\\ 0.2\\ 0.2\\ 0.2\\ 0.2\\
0.2\\ 0.2\\ 0.2\\ 0.2\\ 0.3\\
0.5\\ 0.8\\ 1.3\\ 1.8\\ 2.3\\ 2.8\\ 3.2\\ 3.6\\ 4.1\\ 4.6\\
2.2\\ 1.7\\ 1.2\\ 0.8\\ 0.5\\ 0.3\\
0.2\\ 0.2\\ 0.2\\ 0.2\\ 0.2\\ 0.2\\ 0.2\\ 0.2\\ 0.2\\ 0.2\\
0.2\\ 0.2\\ 0.2\\ 0.2\\ 0.2\\ 0.2\\ 0.2\\ 0.2\\ 0.2\\ 0.2\\
0.2\\ 0.2\\ 0.2\\ 0.2\\ 0.3\\
0.5\\ 0.8\\ 1.3\\ 1.8\\ 2.3\\ 2.8\\ 3.2\\ 3.6\\ 4.1\\
2.6\\ 2.2\\ 1.7\\ 1.2\\ 0.8\\ 0.5\\ 0.3\\
0.2\\ 0.2\\ 0.2\\ 0.2\\ 0.2\\ 0.2\\ 0.2\\ 0.2\\ 0.2\\ 0.2\\
0.2\\ 0.2\\ 0.2\\ 0.2\\ 0.2\\ 0.2\\ 0.2\\ 0.2\\ 0.2\\ 0.2\\
0.2\\ 0.2\\ 0.2\\ 0.2\\ 0.3\\
0.5\\ 0.8\\ 1.3\\ 1.8\\ 2.3\\ 2.8\\ 3.2\\ 3.6\\
3.1\\ 2.6\\ 2.2\\ 1.7\\ 1.2\\ 0.8\\ 0.5\\ 0.3\\
0.2\\ 0.2\\ 0.2\\ 0.2\\ 0.2\\ 0.2\\ 0.2\\ 0.2\\ 0.2\\ 0.2\\
0.2\\ 0.2\\ 0.2\\ 0.2\\ 0.2\\ 0.2\\ 0.2\\ 0.2\\ 0.2\\ 0.2\\
0.2\\ 0.2\\ 0.2\\ 0.2\\ 0.3\\
0.5\\ 0.8\\ 1.3\\ 1.8\\ 2.3\\ 2.8\\ 3.2\\
3.6\\ 3.1\\ 2.6\\ 2.2\\ 1.7\\ 1.2\\ 0.8\\ 0.5\\ 0.3\\
0.2\\ 0.2\\ 0.2\\ 0.2\\ 0.2\\ 0.2\\ 0.2\\ 0.2\\ 0.2\\ 0.2\\
0.2\\ 0.2\\ 0.2\\ 0.2\\ 0.2\\ 0.2\\ 0.2\\ 0.2\\ 0.2\\ 0.2\\
0.2\\ 0.2\\ 0.2\\ 0.3\\
0.5\\ 0.8\\ 1.3\\ 1.8\\ 2.3\\ 2.8\\ 3.2\\
4.2\\ 3.6\\ 3.1\\ 2.6\\ 2.2\\ 1.7\\ 1.2\\ 0.8\\ 0.5\\ 0.3\\
0.2\\ 0.2\\ 0.2\\ 0.2\\ 0.2\\ 0.2\\ 0.2\\ 0.2\\ 0.2\\ 0.2\\
0.2\\ 0.2\\ 0.2\\ 0.2\\ 0.2\\ 0.2\\ 0.2\\ 0.2\\ 0.2\\ 0.2\\
0.2\\ 0.2\\ 0.2\\ 0.3\\
0.5\\ 0.8\\ 1.3\\ 1.8\\ 2.3\\ 2.8\\
4.8\\ 4.2\\ 3.6\\ 3.1\\ 2.6\\ 2.2\\ 1.7\\ 1.2\\ 0.8\\ 0.5\\ 0.3\\
0.2\\ 0.2\\ 0.2\\ 0.2\\ 0.2\\ 0.2\\ 0.2\\ 0.2\\ 0.2\\ 0.2\\
0.2\\ 0.2\\ 0.2\\ 0.2\\ 0.2\\ 0.2\\ 0.2\\ 0.2\\ 0.2\\ 0.2\\
0.2\\ 0.2\\ 0.2\\ 0.3\\
0.5\\ 0.8\\ 1.3\\ 1.8\\ 2.3\\
5.2\\ 4.8\\ 4.2\\ 3.6\\ 3.1\\ 2.6\\ 2.2\\ 1.7\\ 1.2\\ 0.8\\ 0.5\\ 0.3\\
0.2\\ 0.2\\ 0.2\\ 0.2\\ 0.2\\ 0.2\\ 0.2\\ 0.2\\ 0.2\\ 0.2\\
0.2\\ 0.2\\ 0.2\\ 0.2\\ 0.2\\ 0.2\\ 0.2\\ 0.2\\ 0.2\\ 0.2\\
0.2\\ 0.2\\ 0.2\\ 0.3\\
0.5\\ 0.8\\ 1.3\\ 1.8\\
5.5\\ 5.2\\ 4.8\\ 4.2\\ 3.6\\ 3.1\\ 2.6\\ 2.2\\ 1.7\\ 1.2\\ 0.8\\ 0.5\\ 0.3\\
0.2\\ 0.2\\ 0.2\\ 0.2\\ 0.2\\ 0.2\\ 0.2\\ 0.2\\ 0.2\\ 0.2\\
0.2\\ 0.2\\ 0.2\\ 0.2\\ 0.2\\ 0.2\\ 0.2\\ 0.2\\ 0.2\\ 0.2\\
0.2\\ 0.2\\ 0.2\\ 0.3\\
0.5\\ 0.8\\ 1.3\\
5.7\\ 5.5\\ 5.2\\ 4.8\\ 4.2\\ 3.6\\ 3.1\\ 2.6\\ 2.2\\ 1.7\\ 1.2\\ 0.8\\ 0.5\\ 0.3\\
0.2\\ 0.2\\ 0.2\\ 0.2\\ 0.2\\ 0.2\\ 0.2\\ 0.2\\ 0.2\\ 0.2\\
0.2\\ 0.2\\ 0.2\\ 0.2\\ 0.2\\ 0.2\\ 0.2\\ 0.2\\ 0.2\\ 0.2\\
0.2\\ 0.2\\ 0.2\\ 0.3\\
0.5\\ 0.8\\
6.0\\ 5.7\\ 5.5\\ 5.2\\ 4.8\\ 4.2\\ 3.6\\ 3.1\\ 2.6\\ 2.2\\ 1.7\\ 1.2\\ 0.8\\ 0.5\\ 0.3\\
0.2\\ 0.2\\ 0.2\\ 0.2\\ 0.2\\ 0.2\\ 0.2\\ 0.2\\ 0.2\\ 0.2\\
0.2\\ 0.2\\ 0.2\\ 0.2\\ 0.2\\ 0.2\\ 0.2\\ 0.2\\ 0.2\\ 0.2\\
0.2\\ 0.2\\ 0.3\\
0.5\\ 0.8\\
6.2\\ 6.0\\ 5.7\\ 5.5\\ 5.2\\ 4.8\\ 4.2\\ 3.6\\ 3.1\\ 2.6\\ 2.2\\ 1.7\\ 1.2\\ 0.8\\ 0.5\\ 0.3\\
0.2\\ 0.2\\ 0.2\\ 0.2\\ 0.2\\ 0.2\\ 0.2\\ 0.2\\ 0.2\\ 0.2\\
0.2\\ 0.2\\ 0.2\\ 0.2\\ 0.2\\ 0.2\\ 0.2\\ 0.2\\ 0.2\\ 0.2\\
0.2\\ 0.2\\ 0.3\\
0.5\\
6.4\\ 6.2\\ 6.0\\ 5.7\\ 5.5\\ 5.2\\ 4.8\\ 4.2\\ 3.6\\ 3.1\\ 2.6\\ 2.2\\ 1.7\\ 1.2\\ 0.8\\ 0.5\\ 0.3\\
0.2\\ 0.2\\ 0.2\\ 0.2\\ 0.2\\ 0.2\\ 0.2\\ 0.2\\ 0.2\\ 0.2\\
0.2\\ 0.2\\ 0.2\\ 0.2\\ 0.2\\ 0.2\\ 0.2\\ 0.2\\ 0.2\\ 0.2\\
0.2\\ 0.2\\ 0.3\\
6.6\\ 6.4\\ 6.2\\ 6.0\\ 5.7\\ 5.5\\ 5.2\\ 4.8\\ 4.2\\ 3.6\\ 3.1\\ 2.6\\ 2.2\\ 1.7\\ 1.2\\ 0.8\\ 0.5\\ 0.3\\
0.2\\ 0.2\\ 0.2\\ 0.2\\ 0.2\\ 0.2\\ 0.2\\ 0.2\\ 0.2\\ 0.2\\
0.2\\ 0.2\\ 0.2\\ 0.2\\ 0.2\\ 0.2\\ 0.2\\ 0.2\\ 0.2\\ 0.2\\
0.2\\ 0.2\\
6.7\\ 6.6\\ 6.4\\ 6.2\\ 6.0\\ 5.7\\ 5.5\\ 5.2\\ 4.8\\ 4.2\\ 3.6\\ 3.1\\ 2.6\\ 2.2\\ 1.7\\ 1.2\\ 0.8\\ 0.5\\ 0.3\\
0.2\\ 0.2\\ 0.2\\ 0.2\\ 0.2\\ 0.2\\ 0.2\\ 0.2\\ 0.2\\ 0.2\\
0.2\\ 0.2\\ 0.2\\ 0.2\\ 0.2\\ 0.2\\ 0.2\\ 0.2\\ 0.2\\ 0.2\\
0.2\\
6.9\\ 6.7\\ 6.6\\ 6.4\\ 6.2\\ 6.0\\ 5.7\\ 5.5\\ 5.2\\ 4.8\\ 4.2\\ 3.6\\ 3.1\\ 2.6\\ 2.2\\ 1.7\\ 1.2\\ 0.8\\ 0.5\\ 0.3\\
0.2\\ 0.2\\ 0.2\\ 0.2\\ 0.2\\ 0.2\\ 0.2\\ 0.2\\ 0.2\\ 0.2\\
0.2\\ 0.2\\ 0.2\\ 0.2\\ 0.2\\ 0.2\\ 0.2\\ 0.2\\ 0.2\\ 0.2\\
7.0\\ 6.9\\ 6.7\\ 6.6\\ 6.4\\ 6.2\\ 6.0\\ 5.7\\ 5.5\\ 5.2\\ 4.8\\ 4.2\\ 3.6\\ 3.1\\ 2.6\\ 2.2\\ 1.7\\ 1.2\\ 0.8\\ 0.5\\ 0.3\\
0.2\\ 0.2\\ 0.2\\ 0.2\\ 0.2\\ 0.2\\ 0.2\\ 0.2\\ 0.2\\ 0.2\\
0.2\\ 0.2\\ 0.2\\ 0.2\\ 0.2\\ 0.2\\ 0.2\\ 0.2\\ 0.2\\
7.1\\ 7.0\\ 6.9\\ 6.7\\ 6.6\\ 6.4\\ 6.2\\ 6.0\\ 5.7\\ 5.5\\ 5.2\\ 4.8\\ 4.2\\ 3.6\\ 3.1\\ 2.6\\ 2.2\\ 1.7\\ 1.2\\ 0.8\\ 0.5\\ 0.3\\
0.2\\ 0.2\\ 0.2\\ 0.2\\ 0.2\\ 0.2\\ 0.2\\ 0.2\\ 0.2\\ 0.2\\
0.2\\ 0.2\\ 0.2\\ 0.2\\ 0.2\\ 0.2\\ 0.2\\ 0.2\\
7.2\\ 7.1\\ 7.0\\ 6.9\\ 6.7\\ 6.6\\ 6.4\\ 6.2\\ 6.0\\ 5.7\\ 5.5\\ 5.2\\ 4.8\\ 4.2\\ 3.6\\ 3.1\\ 2.6\\ 2.2\\ 1.7\\ 1.2\\ 0.8\\ 0.5\\ 0.3\\
0.2\\ 0.2\\ 0.2\\ 0.2\\ 0.2\\ 0.2\\ 0.2\\ 0.2\\ 0.2\\ 0.2\\
0.2\\ 0.2\\ 0.2\\ 0.2\\ 0.2\\ 0.2\\ 0.2\\
7.3\\ 7.2\\ 7.1\\ 7.0\\ 6.9\\ 6.7\\ 6.6\\ 6.4\\ 6.2\\ 6.0\\ 5.7\\ 5.5\\ 5.2\\ 4.8\\ 4.2\\ 3.6\\ 3.1\\ 2.6\\ 2.2\\ 1.7\\ 1.2\\ 0.8\\ 0.5\\ 0.3\\
0.2\\ 0.2\\ 0.2\\ 0.2\\ 0.2\\ 0.2\\ 0.2\\ 0.2\\ 0.2\\ 0.2\\
0.2\\ 0.2\\ 0.2\\ 0.2\\ 0.2\\ 0.2\\
7.5\\ 7.3\\ 7.2\\ 7.1\\ 7.0\\ 6.8\\ 6.7\\ 6.6\\ 6.4\\ 6.1\\ 5.9\\ 5.6\\ 5.4\\ 5.1\\ 4.7\\ 4.1\\ 3.5\\ 3.0\\ 2.5\\ 2.1\\ 1.6\\ 1.1\\ 0.8\\ 0.5\\ 0.3\\
0.2\\ 0.2\\ 0.2\\ 0.2\\ 0.2\\ 0.2\\ 0.2\\ 0.2\\ 0.2\\ 0.2\\
0.2\\ 0.2\\ 0.2\\ 0.2\\ 0.2\\
7.6\\ 7.5\\ 7.3\\ 7.2\\ 7.1\\ 7.0\\ 6.8\\ 6.7\\ 6.5\\ 6.3\\ 6.1\\ 5.9\\ 5.6\\ 5.3\\ 5.0\\ 4.6\\ 4.0\\ 3.4\\ 3.0\\ 2.4\\ 2.0\\ 1.5\\ 1.1\\ 0.7\\ 0.5\\ 0.3\\
0.2\\ 0.2\\ 0.2\\ 0.2\\ 0.2\\ 0.2\\ 0.2\\ 0.2\\ 0.2\\ 0.2\\
0.2\\ 0.2\\ 0.2\\ 0.2\\
7.7\\ 7.6\\ 7.5\\ 7.3\\ 7.2\\ 7.1\\ 7.0\\ 6.8\\ 6.6\\ 6.5\\ 6.3\\ 6.0\\ 5.8\\ 5.5\\ 5.2\\ 4.9\\ 4.5\\ 3.9\\ 3.4\\ 2.9\\ 2.3\\ 1.9\\ 1.4\\ 1.0\\ 0.7\\ 0.4\\ 0.3\\
0.2\\ 0.2\\ 0.2\\ 0.2\\ 0.2\\ 0.2\\ 0.2\\ 0.2\\ 0.2\\ 0.2\\
0.2\\ 0.2\\ 0.2\\
7.8\\ 7.7\\ 7.6\\ 7.5\\ 7.3\\ 7.2\\ 7.1\\ 6.9\\ 6.8\\ 6.6\\ 6.5\\ 6.2\\ 6.0\\ 5.7\\ 5.4\\ 5.1\\ 4.8\\ 4.4\\ 3.8\\ 3.3\\ 2.8\\ 2.2\\ 1.8\\ 1.3\\ 0.9\\ 0.6\\ 0.4\\ 0.3\\
0.2\\ 0.2\\ 0.2\\ 0.2\\ 0.2\\ 0.2\\ 0.2\\ 0.2\\ 0.2\\ 0.2\\
0.2\\ 0.2\\
7.9\\ 7.8\\ 7.7\\ 7.6\\ 7.5\\ 7.3\\ 7.2\\ 7.0\\ 6.9\\ 6.8\\ 6.6\\ 6.4\\ 6.2\\ 5.9\\ 5.7\\ 5.4\\ 5.0\\ 4.7\\ 4.2\\ 3.7\\ 3.2\\ 2.7\\ 2.1\\ 1.7\\ 1.2\\ 0.9\\ 0.6\\ 0.4\\ 0.3\\
0.2\\ 0.2\\ 0.2\\ 0.2\\ 0.2\\ 0.2\\ 0.2\\ 0.2\\ 0.2\\ 0.2\\
0.2\\
8.0\\ 7.9\\ 7.8\\ 7.7\\ 7.6\\ 7.5\\ 7.3\\ 7.2\\ 7.0\\ 6.9\\ 6.7\\ 6.6\\ 6.4\\ 6.1\\ 5.9\\ 5.6\\ 5.3\\ 4.9\\ 4.6\\ 4.1\\ 3.7\\ 3.1\\ 2.6\\ 2.1\\ 1.6\\ 1.2\\ 0.8\\ 0.5\\ 0.4\\ 0.3\\
0.2\\ 0.2\\ 0.2\\ 0.2\\ 0.2\\ 0.2\\ 0.2\\ 0.2\\ 0.2\\ 0.2\\
8.0\\ 8.0\\ 7.9\\ 7.8\\ 7.7\\ 7.6\\ 7.5\\ 7.3\\ 7.2\\ 7.0\\ 6.9\\ 6.7\\ 6.5\\ 6.4\\ 6.1\\ 5.8\\ 5.5\\ 5.2\\ 4.9\\ 4.5\\ 4.0\\ 3.6\\ 3.0\\ 2.5\\ 2.0\\ 1.5\\ 1.1\\ 0.7\\ 0.5\\ 0.3\\ 0.3\\
0.2\\ 0.2\\ 0.2\\ 0.2\\ 0.2\\ 0.2\\ 0.2\\ 0.2\\ 0.2\\
8.1\\ 8.0\\ 8.0\\ 7.9\\ 7.8\\ 7.7\\ 7.6\\ 7.5\\ 7.3\\ 7.2\\ 7.0\\ 6.9\\ 6.7\\ 6.5\\ 6.3\\ 6.0\\ 5.7\\ 5.5\\ 5.2\\ 4.8\\ 4.4\\ 3.9\\ 3.5\\ 3.0\\ 2.5\\ 1.9\\ 1.4\\ 1.0\\ 0.7\\ 0.4\\ 0.3\\ 0.3\\
0.2\\ 0.2\\ 0.2\\ 0.2\\ 0.2\\ 0.2\\ 0.2\\ 0.2\\
8.1\\ 8.1\\ 8.0\\ 8.0\\ 7.9\\ 7.8\\ 7.7\\ 7.6\\ 7.5\\ 7.4\\ 7.2\\ 7.0\\ 6.9\\ 6.7\\ 6.5\\ 6.3\\ 6.0\\ 5.7\\ 5.4\\ 5.1\\ 4.7\\ 4.3\\ 3.8\\ 3.4\\ 2.9\\ 2.4\\ 1.8\\ 1.3\\ 0.9\\ 0.6\\ 0.4\\ 0.3\\ 0.3\\
0.2\\ 0.2\\ 0.2\\ 0.2\\ 0.2\\ 0.2\\ 0.2\\
};
\end{axis}

% ---- colour bars ----
\begin{axis}[cbar, at={(1.31in,0.46in)}, width=4.66in, height=0.14in,
  point meta min=2.14, point meta max=8.61,
  colorbar style={cbar style, width=4.66in, height=0.14in,
    xtick={3,4,5,6,7,8}, xticklabels={3,4,5,6,7,8}}]
\end{axis}
\begin{axis}[cbar, at={(7.44in,0.54in)}, width=2.08in, height=0.06in,
  point meta min=0.04, point meta max=8.16,
  colorbar style={cbar style, width=2.08in, height=0.06in,
    xtick={2.5,5,7.5}, xticklabels={2.5,5.0,7.5}}]
\end{axis}
\end{tikzpicture}
\end{document}
